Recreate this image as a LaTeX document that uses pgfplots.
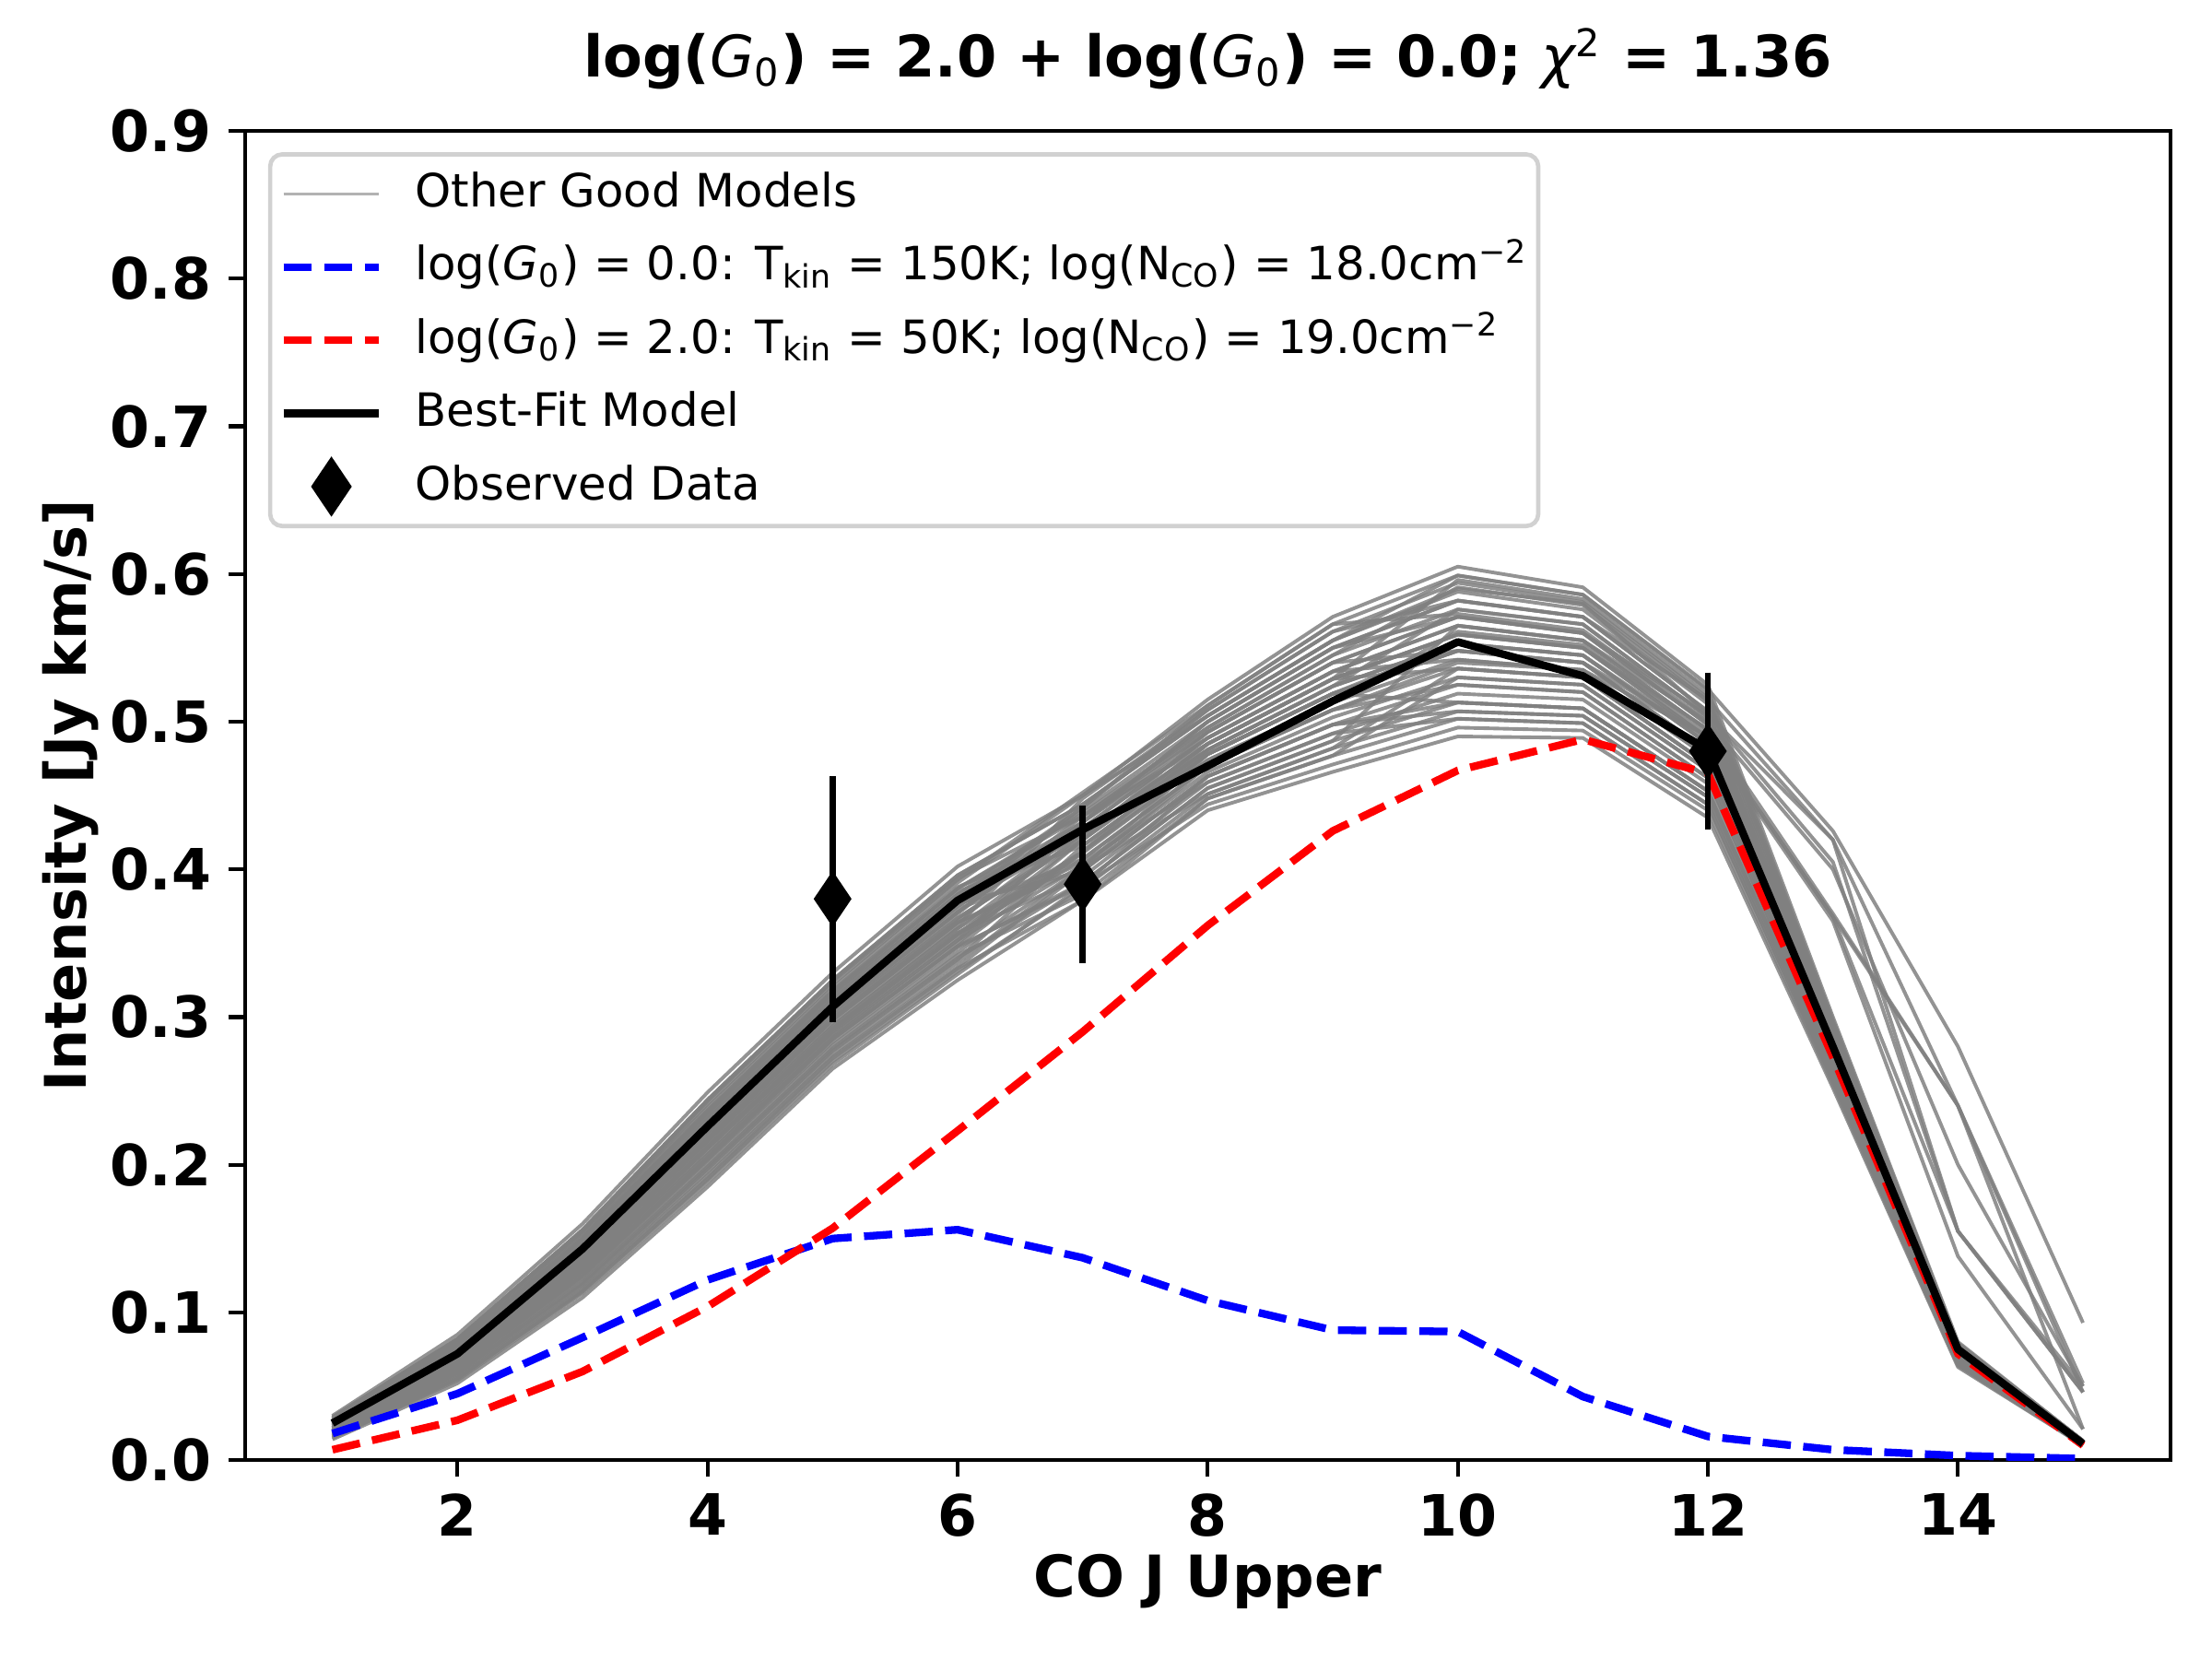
\documentclass[border=0pt]{standalone}
\usepackage{pgfplots}
\pgfplotsset{compat=1.18}
\usepackage{fontspec}
\setmainfont{DejaVu Sans}
\newcommand{\Gz}{{\mdseries\itshape G}\textsubscript{\mdseries\upshape 0}}
\pgfplotsset{
  lineleg/.style={legend image code/.code={\draw[##1] (0pt,0pt) -- (20pt,0pt); \path (26.7pt,0pt);}},
  markleg/.style={legend image code/.code={\draw[##1] plot coordinates {(10pt,0pt)}; \path (0pt,0pt) (26.7pt,0pt);}},
}
\begin{document}
\begin{tikzpicture}
\useasboundingbox (-1.80cm,-1.463cm) rectangle (14.455cm,10.729cm);
\begin{axis}[
  at={(0,0)}, anchor=south west,
  scale only axis, width=14.15cm, height=9.767cm,
  xmin=0.3, xmax=15.7, ymin=0, ymax=0.9,
  xtick={2,4,6,8,10,12,14}, xticklabels={2,4,6,8,10,12,14},
  ytick={0,0.1,0.2,0.3,0.4,0.5,0.6,0.7,0.8,0.9},
  yticklabels={0.0,0.1,0.2,0.3,0.4,0.5,0.6,0.7,0.8,0.9},
  tick pos=left, tick align=outside, major tick length=3.5pt,
  tick style={line width=0.8pt, black},
  axis line style={line width=0.8pt},
  ticklabel style={font=\fontsize{11.9}{14}\selectfont\bfseries},
  label style={font=\fontsize{12}{14}\selectfont\bfseries},
  xlabel={CO J Upper}, ylabel={Intensity [Jy km/s]},
  xlabel style={at={(axis description cs:0.5,-0.0915)}, anchor=center},
  ylabel style={at={(axis description cs:-0.0906,0.5)}, anchor=center},
  title={log(\Gz) = 2.0 + log(\Gz) = 0.0; {\mdseries\itshape χ}\textsuperscript{\mdseries 2} = 1.36},
  title style={at={(axis description cs:0.5,1.0326)}, anchor=center, font=\fontsize{12}{14}\selectfont\bfseries},
  legend cell align=left,
  legend style={at={(axis description cs:0.012,0.984)}, anchor=north west,
    draw=black!18, line width=0.9pt, rounded corners=2.5pt, fill=white,
    font=\fontsize{9.6}{11}\selectfont,
    inner xsep=2pt, inner ysep=2pt, row sep=2.8pt,
    nodes={inner sep=0pt, text height=9pt, text depth=3.5pt}},
  lineleg,
  gl/.style={draw=gray, draw opacity=0.85, line width=0.75pt, line join=round},
]
\addplot[gl, legend image post style={line width=0.5pt, draw opacity=0.6}] coordinates {(1,0.014)(2,0.052)(3,0.110)(4,0.185)(5,0.265)(6,0.325)(7,0.379)(8,0.448)(9,0.477)(10,0.502)(11,0.499)(12,0.444)(13,0.257)(14,0.065)(15,0.010)};
\addlegendentry{Other Good Models}
\addplot[gl,forget plot] coordinates {(1,0.015)(2,0.054)(3,0.113)(4,0.188)(5,0.268)(6,0.329)(7,0.389)(8,0.463)(9,0.498)(10,0.525)(11,0.520)(12,0.462)(13,0.266)(14,0.068)(15,0.011)};
\addplot[gl,forget plot] coordinates {(1,0.016)(2,0.055)(3,0.115)(4,0.191)(5,0.272)(6,0.333)(7,0.379)(8,0.440)(9,0.466)(10,0.490)(11,0.489)(12,0.435)(13,0.252)(14,0.063)(15,0.010)};
\addplot[gl,forget plot] coordinates {(1,0.016)(2,0.057)(3,0.118)(4,0.195)(5,0.275)(6,0.337)(7,0.401)(8,0.478)(9,0.519)(10,0.548)(11,0.540)(12,0.480)(13,0.276)(14,0.072)(15,0.012)};
\addplot[gl,forget plot] coordinates {(1,0.017)(2,0.059)(3,0.120)(4,0.198)(5,0.278)(6,0.340)(7,0.391)(8,0.455)(9,0.487)(10,0.513)(11,0.509)(12,0.453)(13,0.262)(14,0.066)(15,0.011)};
\addplot[gl,forget plot] coordinates {(1,0.018)(2,0.060)(3,0.123)(4,0.201)(5,0.281)(6,0.344)(7,0.401)(8,0.470)(9,0.508)(10,0.536)(11,0.530)(12,0.471)(13,0.271)(14,0.070)(15,0.011)};
\addplot[gl,forget plot] coordinates {(1,0.019)(2,0.062)(3,0.125)(4,0.204)(5,0.285)(6,0.348)(7,0.412)(8,0.485)(9,0.529)(10,0.559)(11,0.550)(12,0.489)(13,0.281)(14,0.073)(15,0.012)};
\addplot[gl,forget plot] coordinates {(1,0.020)(2,0.064)(3,0.128)(4,0.207)(5,0.288)(6,0.352)(7,0.403)(8,0.466)(9,0.503)(10,0.530)(11,0.525)(12,0.467)(13,0.269)(14,0.069)(15,0.011)};
\addplot[gl,forget plot] coordinates {(1,0.020)(2,0.065)(3,0.130)(4,0.211)(5,0.291)(6,0.356)(7,0.420)(8,0.493)(9,0.540)(10,0.571)(11,0.560)(12,0.498)(13,0.286)(14,0.075)(15,0.012)};
\addplot[gl,forget plot] coordinates {(1,0.021)(2,0.067)(3,0.133)(4,0.214)(5,0.294)(6,0.360)(7,0.412)(8,0.474)(9,0.513)(10,0.542)(11,0.535)(12,0.476)(13,0.274)(14,0.071)(15,0.011)};
\addplot[gl,forget plot] coordinates {(1,0.022)(2,0.069)(3,0.135)(4,0.217)(5,0.298)(6,0.364)(7,0.405)(8,0.459)(9,0.492)(10,0.519)(11,0.515)(12,0.458)(13,0.264)(14,0.067)(15,0.011)};
\addplot[gl,forget plot] coordinates {(1,0.023)(2,0.070)(3,0.138)(4,0.220)(5,0.301)(6,0.367)(7,0.420)(8,0.481)(9,0.524)(10,0.553)(11,0.545)(12,0.485)(13,0.278)(14,0.072)(15,0.012)};
\addplot[gl,forget plot] coordinates {(1,0.024)(2,0.072)(3,0.140)(4,0.223)(5,0.304)(6,0.371)(7,0.432)(8,0.500)(9,0.550)(10,0.582)(11,0.571)(12,0.507)(13,0.290)(14,0.077)(15,0.012)};
\addplot[gl,forget plot] coordinates {(1,0.024)(2,0.074)(3,0.143)(4,0.227)(5,0.307)(6,0.375)(7,0.428)(8,0.489)(9,0.534)(10,0.565)(11,0.555)(12,0.494)(13,0.283)(14,0.074)(15,0.012)};
\addplot[gl,forget plot] coordinates {(1,0.025)(2,0.075)(3,0.145)(4,0.230)(5,0.311)(6,0.379)(7,0.424)(8,0.478)(9,0.519)(10,0.548)(11,0.540)(12,0.480)(13,0.276)(14,0.072)(15,0.012)};
\addplot[gl,forget plot] coordinates {(1,0.026)(2,0.077)(3,0.148)(4,0.233)(5,0.314)(6,0.383)(7,0.442)(8,0.508)(9,0.561)(10,0.594)(11,0.581)(12,0.516)(13,0.295)(14,0.078)(15,0.013)};
\addplot[gl,forget plot] coordinates {(1,0.027)(2,0.078)(3,0.150)(4,0.236)(5,0.317)(6,0.387)(7,0.438)(8,0.496)(9,0.545)(10,0.576)(11,0.566)(12,0.503)(13,0.288)(14,0.076)(15,0.012)};
\addplot[gl,forget plot] coordinates {(1,0.028)(2,0.080)(3,0.153)(4,0.239)(5,0.320)(6,0.391)(7,0.450)(8,0.515)(9,0.571)(10,0.605)(11,0.591)(12,0.525)(13,0.300)(14,0.080)(15,0.013)};
\addplot[gl,forget plot] coordinates {(1,0.028)(2,0.082)(3,0.155)(4,0.243)(5,0.324)(6,0.394)(7,0.436)(8,0.485)(9,0.529)(10,0.559)(11,0.550)(12,0.489)(13,0.281)(14,0.073)(15,0.012)};
\addplot[gl,forget plot] coordinates {(1,0.030)(2,0.085)(3,0.160)(4,0.249)(5,0.330)(6,0.402)(7,0.450)(8,0.504)(9,0.555)(10,0.588)(11,0.576)(12,0.512)(13,0.293)(14,0.078)(15,0.013)};
\addplot[gl,forget plot] coordinates {(1,0.022)(2,0.069)(3,0.135)(4,0.217)(5,0.298)(6,0.364)(7,0.401)(8,0.451)(9,0.482)(10,0.507)(11,0.504)(12,0.449)(13,0.259)(14,0.066)(15,0.011)};
\addplot[gl,forget plot] coordinates {(1,0.019)(2,0.062)(3,0.125)(4,0.204)(5,0.285)(6,0.348)(7,0.389)(8,0.444)(9,0.471)(10,0.496)(11,0.494)(12,0.440)(13,0.254)(14,0.064)(15,0.010)};
\addplot[gl,forget plot] coordinates {(1,0.016)(2,0.056)(3,0.116)(4,0.193)(5,0.273)(6,0.334)(7,0.399)(8,0.463)(9,0.498)(10,0.513)(11,0.509)(12,0.453)(13,0.262)(14,0.066)(15,0.011)};
\addplot[gl,forget plot] coordinates {(1,0.018)(2,0.059)(3,0.121)(4,0.199)(5,0.279)(6,0.342)(7,0.383)(8,0.448)(9,0.477)(10,0.530)(11,0.525)(12,0.467)(13,0.269)(14,0.069)(15,0.011)};
\addplot[gl,forget plot] coordinates {(1,0.019)(2,0.063)(3,0.126)(4,0.205)(5,0.286)(6,0.350)(7,0.420)(8,0.481)(9,0.524)(10,0.576)(11,0.566)(12,0.503)(13,0.288)(14,0.076)(15,0.012)};
\addplot[gl,forget plot] coordinates {(1,0.021)(2,0.066)(3,0.131)(4,0.212)(5,0.292)(6,0.357)(7,0.395)(8,0.459)(9,0.492)(10,0.502)(11,0.499)(12,0.444)(13,0.257)(14,0.065)(15,0.010)};
\addplot[gl,forget plot] coordinates {(1,0.022)(2,0.069)(3,0.136)(4,0.218)(5,0.299)(6,0.365)(7,0.428)(8,0.489)(9,0.534)(10,0.542)(11,0.535)(12,0.476)(13,0.274)(14,0.071)(15,0.011)};
\addplot[gl,forget plot] coordinates {(1,0.024)(2,0.072)(3,0.141)(4,0.225)(5,0.305)(6,0.373)(7,0.407)(8,0.470)(9,0.508)(10,0.525)(11,0.520)(12,0.462)(13,0.266)(14,0.068)(15,0.011)};
\addplot[gl,forget plot] coordinates {(1,0.026)(2,0.076)(3,0.146)(4,0.231)(5,0.312)(6,0.380)(7,0.440)(8,0.500)(9,0.550)(10,0.571)(11,0.560)(12,0.498)(13,0.286)(14,0.075)(15,0.012)};
\addplot[gl,forget plot] coordinates {(1,0.027)(2,0.079)(3,0.151)(4,0.237)(5,0.318)(6,0.388)(7,0.424)(8,0.485)(9,0.529)(10,0.536)(11,0.530)(12,0.471)(13,0.271)(14,0.070)(15,0.011)};
\addplot[gl,forget plot] coordinates {(1,0.029)(2,0.082)(3,0.156)(4,0.244)(5,0.325)(6,0.396)(7,0.444)(8,0.504)(9,0.555)(10,0.599)(11,0.586)(12,0.521)(13,0.298)(14,0.079)(15,0.013)};
\addplot[gl,forget plot] coordinates {(1,0.020)(2,0.065)(3,0.129)(4,0.209)(5,0.290)(6,0.354)(7,0.411)(8,0.474)(9,0.513)(10,0.561)(11,0.552)(12,0.491)(13,0.282)(14,0.074)(15,0.012)};
\addplot[gl,forget plot] coordinates {(1,0.023)(2,0.071)(3,0.139)(4,0.222)(5,0.303)(6,0.370)(7,0.436)(8,0.496)(9,0.545)(10,0.591)(11,0.579)(12,0.514)(13,0.294)(14,0.078)(15,0.013)};
\addplot[gl,forget plot] coordinates {(1,0.025)(2,0.074)(3,0.144)(4,0.229)(5,0.309)(6,0.377)(7,0.399)(8,0.463)(9,0.498)(10,0.507)(11,0.504)(12,0.449)(13,0.259)(14,0.066)(15,0.010)};
\addplot[gl,forget plot] coordinates {(1,0.017)(2,0.058)(3,0.119)(4,0.197)(5,0.277)(6,0.339)(7,0.416)(8,0.478)(9,0.519)(10,0.553)(11,0.545)(12,0.485)(13,0.278)(14,0.072)(15,0.012)};
\addplot[gl,forget plot] coordinates {(1,0.018)(2,0.061)(3,0.124)(4,0.203)(5,0.283)(6,0.347)(7,0.391)(8,0.455)(9,0.487)(10,0.565)(11,0.555)(12,0.494)(13,0.283)(14,0.074)(15,0.012)};
\addplot[gl,forget plot] coordinates {(1,0.022)(2,0.068)(3,0.134)(4,0.216)(5,0.296)(6,0.362)(7,0.448)(8,0.508)(9,0.561)(10,0.582)(11,0.571)(12,0.507)(13,0.290)(14,0.077)(15,0.012)};
\addplot[gl,forget plot] coordinates {(1,0.026)(2,0.078)(3,0.149)(4,0.235)(5,0.316)(6,0.385)(7,0.416)(8,0.478)(9,0.519)(10,0.513)(11,0.509)(12,0.453)(13,0.262)(14,0.066)(15,0.011)};
\addplot[gl,forget plot] coordinates {(1,0.015)(2,0.055)(3,0.114)(4,0.190)(5,0.270)(6,0.331)(7,0.387)(8,0.451)(9,0.482)(10,0.536)(11,0.530)(12,0.471)(13,0.271)(14,0.070)(15,0.011)};
\addplot[gl,forget plot] coordinates {(1,0.028)(2,0.081)(3,0.154)(4,0.241)(5,0.322)(6,0.393)(7,0.452)(8,0.511)(9,0.566)(10,0.573)(11,0.562)(12,0.500)(13,0.287)(14,0.075)(15,0.012)};
\addplot[gl,forget plot] coordinates {(1,0.021)(2,0.067)(3,0.133)(4,0.214)(5,0.294)(6,0.360)(7,0.424)(8,0.485)(9,0.529)(10,0.596)(11,0.583)(12,0.518)(13,0.296)(14,0.079)(15,0.013)};
\addplot[gl,forget plot] coordinates {(1,0.020)(2,0.064)(3,0.128)(4,0.207)(5,0.288)(6,0.352)(7,0.432)(8,0.493)(9,0.540)(10,0.548)(11,0.540)(12,0.480)(13,0.276)(14,0.072)(15,0.012)};
% tail models
\addplot[gl,forget plot] coordinates {(1,0.025)(2,0.075)(3,0.145)(4,0.230)(5,0.311)(6,0.379)(7,0.442)(8,0.511)(9,0.566)(10,0.599)(11,0.586)(12,0.522)(13,0.426)(14,0.280)(15,0.093)};
\addplot[gl,forget plot] coordinates {(1,0.024)(2,0.072)(3,0.140)(4,0.223)(5,0.304)(6,0.371)(7,0.432)(8,0.500)(9,0.550)(10,0.582)(11,0.571)(12,0.515)(13,0.420)(14,0.240)(15,0.052)};
\addplot[gl,forget plot] coordinates {(1,0.027)(2,0.078)(3,0.150)(4,0.236)(5,0.317)(6,0.387)(7,0.436)(8,0.493)(9,0.540)(10,0.571)(11,0.560)(12,0.505)(13,0.405)(14,0.155)(15,0.050)};
\addplot[gl,forget plot] coordinates {(1,0.023)(2,0.070)(3,0.138)(4,0.220)(5,0.301)(6,0.367)(7,0.422)(8,0.485)(9,0.529)(10,0.559)(11,0.550)(12,0.495)(13,0.370)(14,0.240)(15,0.046)};
\addplot[gl,forget plot] coordinates {(1,0.020)(2,0.065)(3,0.130)(4,0.211)(5,0.291)(6,0.356)(7,0.412)(8,0.478)(9,0.519)(10,0.548)(11,0.540)(12,0.490)(13,0.368)(14,0.155)(15,0.046)};
\addplot[gl,forget plot] coordinates {(1,0.024)(2,0.074)(3,0.143)(4,0.227)(5,0.307)(6,0.375)(7,0.424)(8,0.481)(9,0.524)(10,0.553)(11,0.545)(12,0.488)(13,0.365)(14,0.138)(15,0.021)};
\addplot[gl,forget plot] coordinates {(1,0.026)(2,0.077)(3,0.148)(4,0.233)(5,0.314)(6,0.383)(7,0.432)(8,0.489)(9,0.534)(10,0.565)(11,0.555)(12,0.500)(13,0.400)(14,0.200)(15,0.050)};
\addplot[gl,forget plot] coordinates {(1,0.029)(2,0.082)(3,0.156)(4,0.244)(5,0.325)(6,0.396)(7,0.444)(8,0.504)(9,0.555)(10,0.590)(11,0.580)(12,0.505)(13,0.420)(14,0.155)(15,0.046)};
\addplot[gl,forget plot] coordinates {(1,0.021)(2,0.066)(3,0.131)(4,0.212)(5,0.292)(6,0.357)(7,0.407)(8,0.470)(9,0.508)(10,0.540)(11,0.535)(12,0.490)(13,0.368)(14,0.240)(15,0.021)};
% blue: G0 = 0
\addplot[blue, line width=1.6pt, dash pattern=on 5.9pt off 2.6pt] coordinates {(1,0.018)(2,0.045)(3,0.083)(4,0.122)(5,0.150)(6,0.156)(7,0.137)(8,0.108)(9,0.088)(10,0.087)(11,0.043)(12,0.016)(13,0.007)(14,0.003)(15,0.001)};
\addlegendentry{log(\Gz) = 0.0: T\textsubscript{kin} = 150K; log(N\textsubscript{CO}) = 18.0cm\textsuperscript{−2}}
% red: G0 = 2
\addplot[red, line width=1.6pt, dash pattern=on 5.9pt off 2.6pt] coordinates {(1,0.007)(2,0.027)(3,0.060)(4,0.104)(5,0.157)(6,0.223)(7,0.290)(8,0.362)(9,0.426)(10,0.467)(11,0.488)(12,0.465)(13,0.273)(14,0.072)(15,0.010)};
\addlegendentry{log(\Gz) = 2.0: T\textsubscript{kin} = 50K; log(N\textsubscript{CO}) = 19.0cm\textsuperscript{−2}}
% best fit
\addplot[black, line width=1.6pt, line join=round] coordinates {(1,0.025)(2,0.072)(3,0.143)(4,0.226)(5,0.307)(6,0.379)(7,0.427)(8,0.470)(9,0.514)(10,0.554)(11,0.531)(12,0.481)(13,0.280)(14,0.075)(15,0.011)};
\addlegendentry{Best-Fit Model}
% observed
\addplot[black, only marks, mark=diamond*, mark size=5.5pt, mark options={fill=black, xscale=0.9},
  markleg,
  error bars/.cd, y dir=both, y explicit, error mark=-,
  error bar style={line width=1.3pt, black},
  error mark options={line width=1.3pt, mark size=1pt, black}]
  coordinates {(5,0.38) +- (0,0.08) (7,0.39) +- (0,0.05) (12,0.48) +- (0,0.05)};
\addlegendentry{Observed Data}
\end{axis}
\end{tikzpicture}
\end{document}
